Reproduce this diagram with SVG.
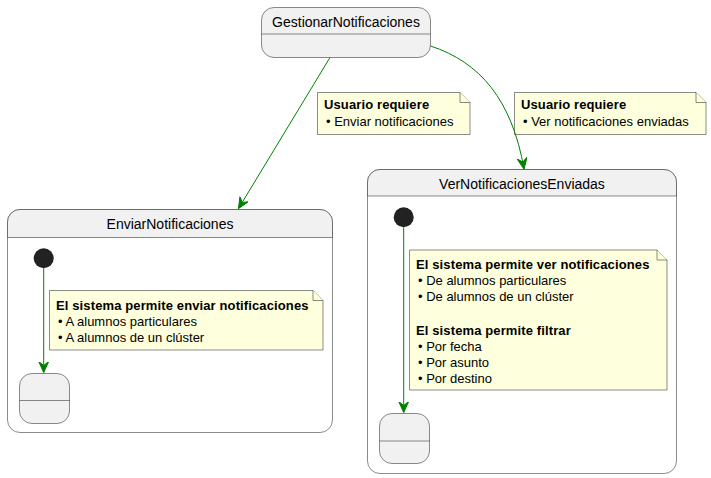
<svg xmlns="http://www.w3.org/2000/svg" width="711" height="478" viewBox="0 0 711 478">
<style>
.st{fill:#F1F1F1;stroke:#181818;stroke-width:0.5}
.ln{stroke:#181818;stroke-width:0.5}
.note{fill:#FEFFDD;stroke:#181818;stroke-width:0.5}
.t{font-family:"Liberation Sans",Arial,sans-serif;font-size:14px;fill:#000}
.n{font-family:"Liberation Sans",Arial,sans-serif;font-size:13px;fill:#000}
.b{font-weight:bold;letter-spacing:0.12px}
.edge{fill:none;stroke:#008000;stroke-width:1}
.init{fill:#222222}
</style>
<defs>
<marker id="ah" markerUnits="userSpaceOnUse" markerWidth="12" markerHeight="12" viewBox="0 0 12 12" refX="11" refY="5" orient="auto">
<path d="M0,0 L11,5 L0,10 L4,5 Z" fill="#008000" stroke="#008000" stroke-width="1"/>
</marker>
</defs>
<g id="GestionarNotificaciones">
<rect class="st" x="261.5" y="7.5" width="169" height="50" rx="12.5"/>
<line class="ln" x1="261.5" y1="34" x2="430.5" y2="34"/>
<text class="t" x="346" y="27" text-anchor="middle">GestionarNotificaciones</text>
</g>
<g id="note1">
<path class="note" d="M317.5,92.5 L460,92.5 L470,102.5 L470,134.5 L317.5,134.5 Z"/>
<path class="note" d="M460,92.5 L460,102.5 L470,102.5" fill="none"/>
<text class="n b" x="324" y="109">Usuario requiere</text>
<text class="n" x="326" y="126">• Enviar notificaciones</text>
</g>
<g id="note2">
<path class="note" d="M514.5,92.5 L696,92.5 L706,102.5 L706,134.5 L514.5,134.5 Z"/>
<path class="note" d="M696,92.5 L696,102.5 L706,102.5" fill="none"/>
<text class="n b" x="521" y="109">Usuario requiere</text>
<text class="n" x="523" y="126">• Ver notificaciones enviadas</text>
</g>
<g id="EnviarNotificaciones">
<rect x="7.5" y="209.5" width="325" height="223" rx="12.5" fill="#FFFFFF" stroke="#181818" stroke-width="0.5"/>
<path class="st" d="M20,209.5 L320,209.5 A12.5,12.5 0 0 1 332.5,222 L332.5,237.5 L7.5,237.5 L7.5,222 A12.5,12.5 0 0 1 20,209.5 Z"/>
<text class="t" x="170" y="229" text-anchor="middle">EnviarNotificaciones</text>
</g>
<g id="Enviar_init">
<circle class="init" cx="43.7" cy="258.3" r="10"/>
</g>
<g id="Enviar_final">
<rect class="st" x="19.5" y="373.5" width="50" height="50" rx="12.5"/>
<line class="ln" x1="19.5" y1="400.5" x2="69.5" y2="400.5"/>
</g>
<g id="note3">
<path class="note" d="M49.5,290.5 L313,290.5 L323,300.5 L323,350 L49.5,350 Z"/>
<path class="note" d="M313,290.5 L313,300.5 L323,300.5" fill="none"/>
<text class="n b" x="56" y="310">El sistema permite enviar notificaciones</text>
<text class="n" x="58" y="326">• A alumnos particulares</text>
<text class="n" x="58" y="342">• A alumnos de un clúster</text>
</g>
<g id="VerNotificacionesEnviadas">
<rect x="367.5" y="169.5" width="309" height="304" rx="12.5" fill="#FFFFFF" stroke="#181818" stroke-width="0.5"/>
<path class="st" d="M380,169.5 L664,169.5 A12.5,12.5 0 0 1 676.5,182 L676.5,196 L367.5,196 L367.5,182 A12.5,12.5 0 0 1 380,169.5 Z"/>
<text class="t" x="522" y="189" text-anchor="middle">VerNotificacionesEnviadas</text>
</g>
<g id="Ver_init">
<circle class="init" cx="403.7" cy="217.3" r="10"/>
</g>
<g id="Ver_final">
<rect class="st" x="379.5" y="413.5" width="50" height="50" rx="12.5"/>
<line class="ln" x1="379.5" y1="441" x2="429.5" y2="441"/>
</g>
<g id="note4">
<path class="note" d="M409.5,250 L657,250 L667,260 L667,390 L409.5,390 Z"/>
<path class="note" d="M657,250 L657,260 L667,260" fill="none"/>
<text class="n b" x="416" y="269">El sistema permite ver notificaciones</text>
<text class="n" x="418" y="285">• De alumnos particulares</text>
<text class="n" x="418" y="301">• De alumnos de un clúster</text>
<text class="n b" x="416" y="335">El sistema permite filtrar</text>
<text class="n" x="418" y="351">• Por fecha</text>
<text class="n" x="418" y="367">• Por asunto</text>
<text class="n" x="418" y="383">• Por destino</text>
</g>
<g id="connectors">
<path class="edge" d="M330,57.5 L238.5,208.5" marker-end="url(#ah)"/>
<path class="edge" d="M430.5,46 C480,62 512,100 524,169" marker-end="url(#ah)"/>
<path class="edge" d="M43.7,268.3 L43.7,372.5" marker-end="url(#ah)"/>
<path class="edge" d="M403.7,227.3 L403.7,412.5" marker-end="url(#ah)"/>
</g>
</svg>
